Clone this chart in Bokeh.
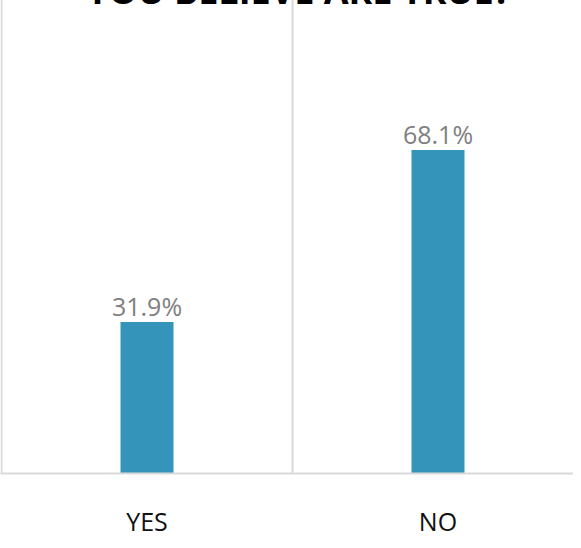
from bokeh.plotting import figure
from bokeh.models import Range1d, FixedTicker, Label, ColumnDataSource
from bokeh.core.properties import value
from bokeh.embed import file_html
from bokeh.resources import INLINE

# ---- data ----
categories = ["YES", "NO"]
values = [31.9, 68.1]
value_labels = ["31.9%", "68.1%"]
title_text = "YOU BELIEVE ARE TRUE?"

BAR = "#3494ba"
GRID = "#d9d9d9"
FONT = "Open Sans"

xs = [i + 0.5 for i in range(len(categories))]
src = ColumnDataSource(dict(x=xs, top=values, lab=value_labels))

W, H = 573, 572
p = figure(width=W, height=H, output_backend="svg", toolbar_location=None,
           title=None,
           x_range=Range1d(-1 / 291.0, (W - 1) / 291.0), y_range=Range1d(0, 100),
           min_border_left=0, min_border_right=0, min_border_top=30,
           min_border_bottom=56, outline_line_color=None)
p.styles = {"margin-top": "-32px", "margin-bottom": "-10px",
            "margin-right": "-8px"}

p.vbar(x="x", top="top", width=53 / 291.0, bottom=0, source=src,
       fill_color=BAR, line_color=None)

p.text(x="x", y="top", text="lab", source=src, y_offset=-16,
       text_align="center", text_baseline="alphabetic",
       text_font=value(FONT), text_font_size="25px", text_color="#808080")

# axes
p.yaxis.visible = False
xa = p.xaxis[0]
xa.ticker = FixedTicker(ticks=xs)
xa.major_label_overrides = {x: c for x, c in zip(xs, categories)}
xa.major_tick_line_color = None
xa.minor_tick_line_color = None
xa.axis_line_color = GRID
xa.axis_line_width = 2
xa.major_label_text_font = FONT
xa.major_label_text_font_size = "25px"
xa.major_label_text_color = "#111111"
xa.major_label_standoff = 24

p.ygrid.grid_line_color = None
p.xgrid.ticker = FixedTicker(ticks=[0, 1, 2])
p.xgrid.grid_line_color = GRID
p.xgrid.grid_line_width = 2

title = Label(x=(W - 2) / 291.0 / 2 + 0.04, y=100, y_offset=8, text=title_text,
              text_align="center", text_baseline="alphabetic",
              text_font=FONT, text_font_size="36px", text_font_style="bold",
              text_color="#000000")
p.add_layout(title)

open("out.html", "w").write(file_html(p, INLINE))
